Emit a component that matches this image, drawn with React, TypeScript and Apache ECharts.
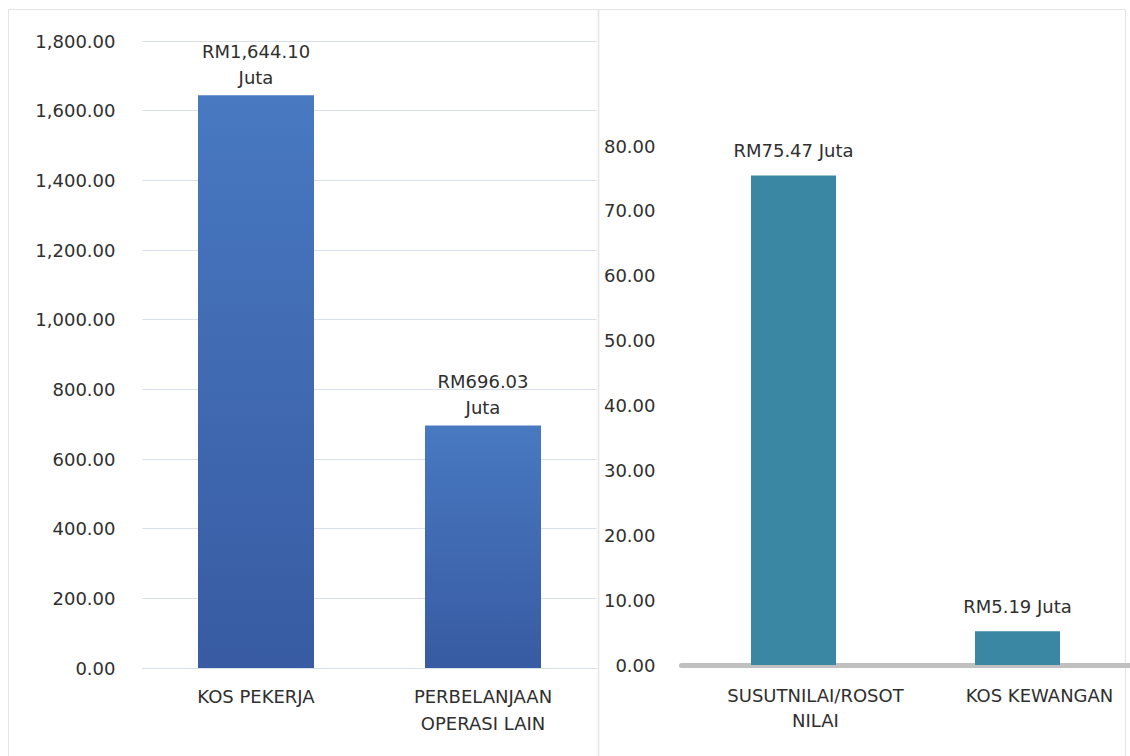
import React, { useEffect, useRef } from "react";
import * as echarts from "echarts";

const leftCategories = ["KOS PEKERJA", "PERBELANJAAN\nOPERASI LAIN"];
const leftValues = [1644.1, 696.03];
const leftTicks = { min: 0, max: 1800, interval: 200 };

const rightCategories = ["SUSUTNILAI/ROSOT\nNILAI", "KOS KEWANGAN"];
const rightValues = [75.47, 5.19];
const rightTicks = { min: 0, max: 80, interval: 10 };

const FONT = "DejaVu Sans";
const TEXT = "#2f2f2f";
const fmt = (v: number) =>
  v.toLocaleString("en-US", { minimumFractionDigits: 2, maximumFractionDigits: 2 });

export default function App() {
  const ref = useRef<HTMLDivElement>(null);
  useEffect(() => {
    if (!ref.current) return;
    const chart = echarts.init(ref.current, null, { renderer: "svg" });
    const labelBase = { fontFamily: FONT, fontSize: 18, color: TEXT };
    chart.setOption({
      animation: false,
      backgroundColor: "#ffffff",
      textStyle: { fontFamily: FONT },
      grid: [
        { left: 142.5, right: 533.5, top: 41, bottom: 88 },
        { left: 681.5, right: 0.5, top: 146, bottom: 91 },
      ],
      xAxis: [
        {
          type: "category",
          gridIndex: 0,
          data: leftCategories,
          axisLine: { lineStyle: { color: "#d9dfe8", width: 1 } },
          axisTick: { show: false },
          axisLabel: { ...labelBase, margin: 15, lineHeight: 27, interval: 0 },
        },
        {
          type: "category",
          gridIndex: 1,
          data: rightCategories,
          axisLine: { lineStyle: { color: "#c0c0c0", width: 5 } },
          axisTick: { show: false },
          axisLabel: {
            ...labelBase,
            margin: 18,
            lineHeight: 25,
            interval: 0,
            padding: [0, 0, 0, 44],
          },
        },
      ],
      yAxis: [
        {
          type: "value",
          gridIndex: 0,
          min: leftTicks.min,
          max: leftTicks.max,
          interval: leftTicks.interval,
          axisLine: { show: false },
          axisTick: { show: false },
          splitLine: { lineStyle: { color: "#d9dfe8", width: 1 } },
          axisLabel: { ...labelBase, margin: 27, formatter: (v: number) => fmt(v) },
        },
        {
          type: "value",
          gridIndex: 1,
          min: rightTicks.min,
          max: rightTicks.max,
          interval: rightTicks.interval,
          axisLine: { show: false },
          axisTick: { show: false },
          splitLine: { show: false },
          axisLabel: { ...labelBase, margin: 26, formatter: (v: number) => fmt(v) },
        },
      ],
      series: [
        {
          type: "bar",
          xAxisIndex: 0,
          yAxisIndex: 0,
          data: leftValues,
          barWidth: 116,
          itemStyle: {
            color: new echarts.graphic.LinearGradient(0, 0, 0, 1, [
              { offset: 0, color: "#4879c1" },
              { offset: 1, color: "#385ba3" },
            ]),
          },
          label: {
            show: true,
            position: "top",
            distance: 5,
            ...labelBase,
            lineHeight: 26,
            formatter: (p: any) => `RM${fmt(p.value)}\nJuta`,
          },
        },
        {
          type: "bar",
          xAxisIndex: 1,
          yAxisIndex: 1,
          data: rightValues,
          barWidth: 85,
          itemStyle: { color: "#3a87a3" },
          label: {
            show: true,
            position: "top",
            distance: 16,
            ...labelBase,
            formatter: (p: any) => `RM${fmt(p.value)} Juta`,
          },
        },
      ],
      graphic: [
        {
          type: "rect",
          silent: true,
          shape: { x: 8.5, y: 9.5, width: 1117, height: 760 },
          style: { fill: "none", stroke: "#e4e4e4", lineWidth: 1 },
        },
        {
          type: "line",
          silent: true,
          shape: { x1: 598.5, y1: 9.5, x2: 598.5, y2: 756 },
          style: { stroke: "#e4e4e4", lineWidth: 1.5 },
        },
      ],
    });
    return () => chart.dispose();
  }, []);
  return (
    <div
      ref={ref}
      style={{ position: "fixed", left: 0, top: 0, width: 1130, height: 756 }}
    />
  );
}
